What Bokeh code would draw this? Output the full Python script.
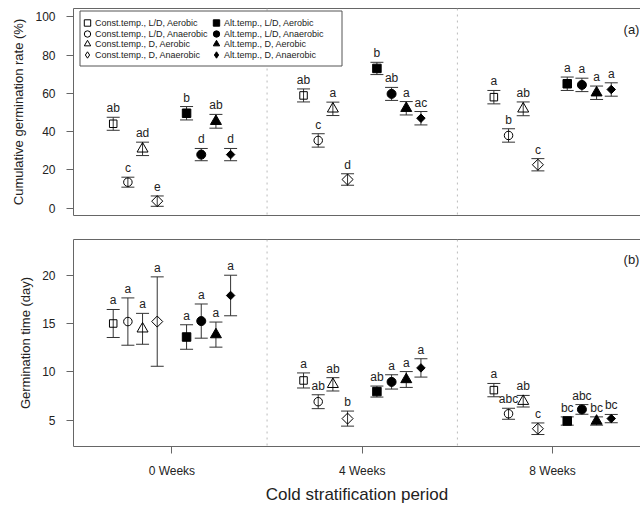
import math
from bokeh.plotting import figure
from bokeh.layouts import column
from bokeh.models import (ColumnDataSource, Range1d, FixedTicker, LinearAxis, Whisker,
                          TeeHead, Span, Label, LabelSet, Legend, LegendItem, BoxAnnotation)
from bokeh.core.properties import value
from bokeh.embed import file_html
from bokeh.resources import INLINE

FONT = "Liberation Sans"

# ---------------- data ----------------
weeks = ["0 Weeks", "4 Weeks", "8 Weeks"]
treatments = ["Const.temp., L/D, Aerobic", "Const.temp., L/D, Anaerobic",
              "Const.temp., D, Aerobic", "Const.temp., D, Anaerobic",
              "Alt.temp., L/D, Aerobic", "Alt.temp., L/D, Anaerobic",
              "Alt.temp., D, Aerobic", "Alt.temp., D, Anaerobic"]

# cumulative germination rate (%), per treatment over weeks
rate_ctld_aer = [44.1, 58.9, 58.0]
rate_ctld_ana = [13.6, 35.4, 38.0]
rate_ctd_aer = [31.0, 51.9, 51.9]
rate_ctd_ana = [3.7, 15.0, 22.7]
rate_atld_aer = [49.6, 73.0, 65.0]
rate_atld_ana = [28.0, 59.7, 64.4]
rate_atd_aer = [45.4, 52.2, 60.3]
rate_atd_ana = [28.0, 47.0, 62.0]

rate_err_ctld_aer = [3.4, 3.4, 3.5]
rate_err_ctld_ana = [2.6, 3.5, 3.5]
rate_err_ctd_aer = [3.5, 3.5, 3.6]
rate_err_ctd_ana = [2.7, 3.0, 3.2]
rate_err_atld_aer = [3.5, 3.2, 3.5]
rate_err_atld_ana = [3.2, 3.4, 3.5]
rate_err_atd_aer = [3.6, 3.5, 3.5]
rate_err_atd_ana = [3.2, 3.5, 3.5]

rate_let_ctld_aer = ["ab", "ab", "a"]
rate_let_ctld_ana = ["c", "c", "b"]
rate_let_ctd_aer = ["ad", "a", "ab"]
rate_let_ctd_ana = ["e", "d", "c"]
rate_let_atld_aer = ["b", "b", "a"]
rate_let_atld_ana = ["d", "ab", "a"]
rate_let_atd_aer = ["ab", "a", "a"]
rate_let_atd_ana = ["d", "ac", "a"]

# germination time (day)
time_ctld_aer = [15.0, 9.1, 8.1]
time_ctld_ana = [15.2, 6.9, 5.65]
time_ctd_aer = [14.45, 8.7, 6.95]
time_ctd_ana = [15.2, 5.15, 4.1]
time_atld_aer = [13.6, 7.95, 4.9]
time_atld_ana = [15.25, 8.95, 6.1]
time_atd_aer = [13.85, 9.2, 4.9]
time_atd_ana = [17.9, 10.4, 5.15]

time_err_ctld_aer = [1.45, 0.78, 0.69]
time_err_ctld_ana = [2.45, 0.72, 0.57]
time_err_ctd_aer = [1.6, 0.69, 0.6]
time_err_ctd_ana = [4.63, 0.78, 0.6]
time_err_atld_aer = [1.27, 0.57, 0.43]
time_err_atld_ana = [1.77, 0.74, 0.5]
time_err_atd_aer = [1.3, 0.82, 0.43]
time_err_atd_ana = [2.1, 0.95, 0.43]

time_let_ctld_aer = ["a", "a", "a"]
time_let_ctld_ana = ["a", "ab", "abc"]
time_let_ctd_aer = ["a", "ab", "ab"]
time_let_ctd_ana = ["a", "b", "c"]
time_let_atld_aer = ["a", "ab", "bc"]
time_let_atld_ana = ["a", "a", "abc"]
time_let_atd_aer = ["a", "a", "bc"]
time_let_atd_ana = ["a", "a", "bc"]

rate_means = [rate_ctld_aer, rate_ctld_ana, rate_ctd_aer, rate_ctd_ana,
              rate_atld_aer, rate_atld_ana, rate_atd_aer, rate_atd_ana]
rate_errs = [rate_err_ctld_aer, rate_err_ctld_ana, rate_err_ctd_aer, rate_err_ctd_ana,
             rate_err_atld_aer, rate_err_atld_ana, rate_err_atd_aer, rate_err_atd_ana]
rate_lets = [rate_let_ctld_aer, rate_let_ctld_ana, rate_let_ctd_aer, rate_let_ctd_ana,
             rate_let_atld_aer, rate_let_atld_ana, rate_let_atd_aer, rate_let_atd_ana]
time_means = [time_ctld_aer, time_ctld_ana, time_ctd_aer, time_ctd_ana,
              time_atld_aer, time_atld_ana, time_atd_aer, time_atd_ana]
time_errs = [time_err_ctld_aer, time_err_ctld_ana, time_err_ctd_aer, time_err_ctd_ana,
             time_err_atld_aer, time_err_atld_ana, time_err_atd_aer, time_err_atd_ana]
time_lets = [time_let_ctld_aer, time_let_ctld_ana, time_let_ctd_aer, time_let_ctd_ana,
             time_let_atld_aer, time_let_atld_ana, time_let_atd_aer, time_let_atd_ana]

# ---------------- styles ----------------
slot = [-4, -3, -2, -1, 1, 2, 3, 4]
dx = 0.0771
markers = ["square", "circle", "triangle", "square", "square", "circle", "triangle", "square"]
legend_markers = ["square", "circle", "triangle", "diamond", "square", "circle", "triangle", "diamond"]
angles = [0, 0, 0, math.pi / 4, 0, 0, 0, math.pi / 4]
sizes = [7.5, 8.5, 11, 7.8, 8.5, 9, 11, 6]
filled = [False] * 4 + [True] * 4
AX = "#666666"
ERR = "#333333"
TXT = "#222222"
XR = (-0.517, 2.462)
FRAME_W = 567.0


def make_fig(height, yr, ticks, ylabel, top_border, bottom_border, show_x):
    p = figure(width=640, height=height, x_range=Range1d(*XR), y_range=yr,
               output_backend="svg", toolbar_location=None,
               min_border_left=73, min_border_right=0,
               min_border_top=top_border, min_border_bottom=bottom_border)
    p.outline_line_color = None
    p.grid.visible = False
    p.background_fill_color = "white"
    ya = p.yaxis[0]
    ya.ticker = FixedTicker(ticks=ticks)
    ya.minor_tick_line_color = None
    ya.major_tick_out = 7
    ya.major_tick_in = 0
    ya.major_tick_line_color = AX
    ya.axis_line_color = AX
    ya.major_label_text_font = FONT
    ya.major_label_text_font_size = "12px"
    ya.major_label_text_color = TXT
    ya.major_label_standoff = 11
    ya.axis_label = ylabel
    ya.axis_label_text_font = FONT
    ya.axis_label_text_font_size = "13px"
    ya.axis_label_text_font_style = "normal"
    ya.axis_label_text_color = TXT
    ya.axis_label_standoff = 6
    xa = p.xaxis[0]
    xa.axis_line_color = AX
    xa.minor_tick_line_color = None
    if show_x:
        xa.ticker = FixedTicker(ticks=[0, 1, 2])
        xa.major_label_overrides = {0: weeks[0], 1: weeks[1], 2: weeks[2]}
        xa.major_tick_out = 7
        xa.major_tick_in = 0
        xa.major_tick_line_color = AX
        xa.major_label_text_font = FONT
        xa.major_label_text_font_size = "12px"
        xa.major_label_text_color = TXT
        xa.major_label_standoff = 10
        xa.axis_label = "Cold stratification period"
        xa.axis_label_text_font = FONT
        xa.axis_label_text_font_size = "17px"
        xa.axis_label_text_font_style = "normal"
        xa.axis_label_text_color = TXT
        xa.axis_label_standoff = 4
    else:
        xa.ticker = FixedTicker(ticks=[])
        xa.major_tick_out = 0
        xa.major_tick_in = 0
        xa.major_label_standoff = 0
        xa.major_label_text_font_size = "0px"
    top = LinearAxis(ticker=FixedTicker(ticks=[]), major_tick_out=0, major_tick_in=0,
                     minor_tick_line_color=None, major_label_standoff=0,
                     major_label_text_font_size="0px", axis_line_color=AX)
    p.add_layout(top, "above")
    for loc in (0.5, 1.5):
        p.add_layout(Span(location=loc, dimension="height", line_color="#bbbbbb",
                          line_dash="dotted", line_width=1))
    return p


def draw(p, means, errs, lets):
    rends = []
    for t in range(8):
        xs = [g + slot[t] * dx for g in range(3)]
        ys = means[t]
        src = ColumnDataSource(dict(x=xs, y=ys,
                                    upper=[m + e for m, e in zip(ys, errs[t])],
                                    lower=[m - e for m, e in zip(ys, errs[t])],
                                    let=lets[t]))
        p.add_layout(Whisker(source=src, base="x", upper="upper", lower="lower",
                             dimension="height", line_color=ERR, line_width=1,
                             upper_head=TeeHead(size=13, line_color=ERR, line_width=1),
                             lower_head=TeeHead(size=13, line_color=ERR, line_width=1)))
        p.scatter("x", "y", source=src, marker=markers[t], size=sizes[t],
                  angle=angles[t],
                  fill_color="black" if filled[t] else None,
                  line_color="black", line_width=1)
        p.add_layout(LabelSet(x="x", y="upper", text="let", source=src, y_offset=5,
                              text_align="center", text_baseline="alphabetic",
                              text_font=value(FONT), text_font_size=value("12px"),
                              text_color=value(TXT)))
        # legend-only renderer (not drawn in the plot: NaN coordinates)
        lr = p.scatter(x=[float("nan")], y=[float("nan")], marker=legend_markers[t],
                       fill_color="black" if filled[t] else None,
                       line_color="black", line_width=1)
        rends.append(lr)
    return rends


TOP_Y0, TOP_Y1 = -3.8, 104.3
p1 = make_fig(227, Range1d(TOP_Y0, TOP_Y1), [0, 20, 40, 60, 80, 100],
              "Cumulative germination rate (%)", 8, 12, False)
r1 = draw(p1, rate_means, rate_errs, rate_lets)
p1.add_layout(Label(x=2.373, y=93.3, text="(a)", text_baseline="middle",
                    text_font=FONT, text_font_size="13px", text_color=TXT))

# legend frame (pixel placement converted to the panel's data space)
FRAME_H = 207.0


def px_x(px):
    return XR[0] + (px - 73.0) * (XR[1] - XR[0]) / FRAME_W


def px_y(py):
    return TOP_Y1 - (py - 8.0) * (TOP_Y1 - TOP_Y0) / FRAME_H


p1.add_layout(BoxAnnotation(left=px_x(79.5), right=px_x(341.5), top=px_y(10.5),
                            bottom=px_y(65.5), fill_color="white", fill_alpha=1,
                            line_color="#555555", line_width=1, line_alpha=1))


def make_legend(idx, yloc):
    return Legend(items=[LegendItem(label=treatments[i], renderers=[r1[i]]) for i in idx],
                  ncols=2, location=(6, yloc), orientation="vertical",
                  label_text_font=FONT, label_text_font_size="9px",
                  label_text_color=TXT, label_height=10, label_width=113,
                  glyph_height=21, glyph_width=16, label_standoff=0, spacing=0,
                  padding=0, margin=0, border_line_color=None,
                  background_fill_alpha=0)


p1.add_layout(make_legend([0, 2, 4, 6], 161))
p1.add_layout(make_legend([1, 3, 5, 7], 150))

p2 = make_fig(279, Range1d(2.26, 23.7), [5, 10, 15, 20],
              "Germination time (day)", 12, 60, True)
draw(p2, time_means, time_errs, time_lets)
p2.add_layout(Label(x=2.373, y=21.66, text="(b)", text_baseline="middle",
                    text_font=FONT, text_font_size="13px", text_color=TXT))

layout = column(p1, p2, spacing=0)
open("out.html", "w").write(file_html(layout, INLINE))
